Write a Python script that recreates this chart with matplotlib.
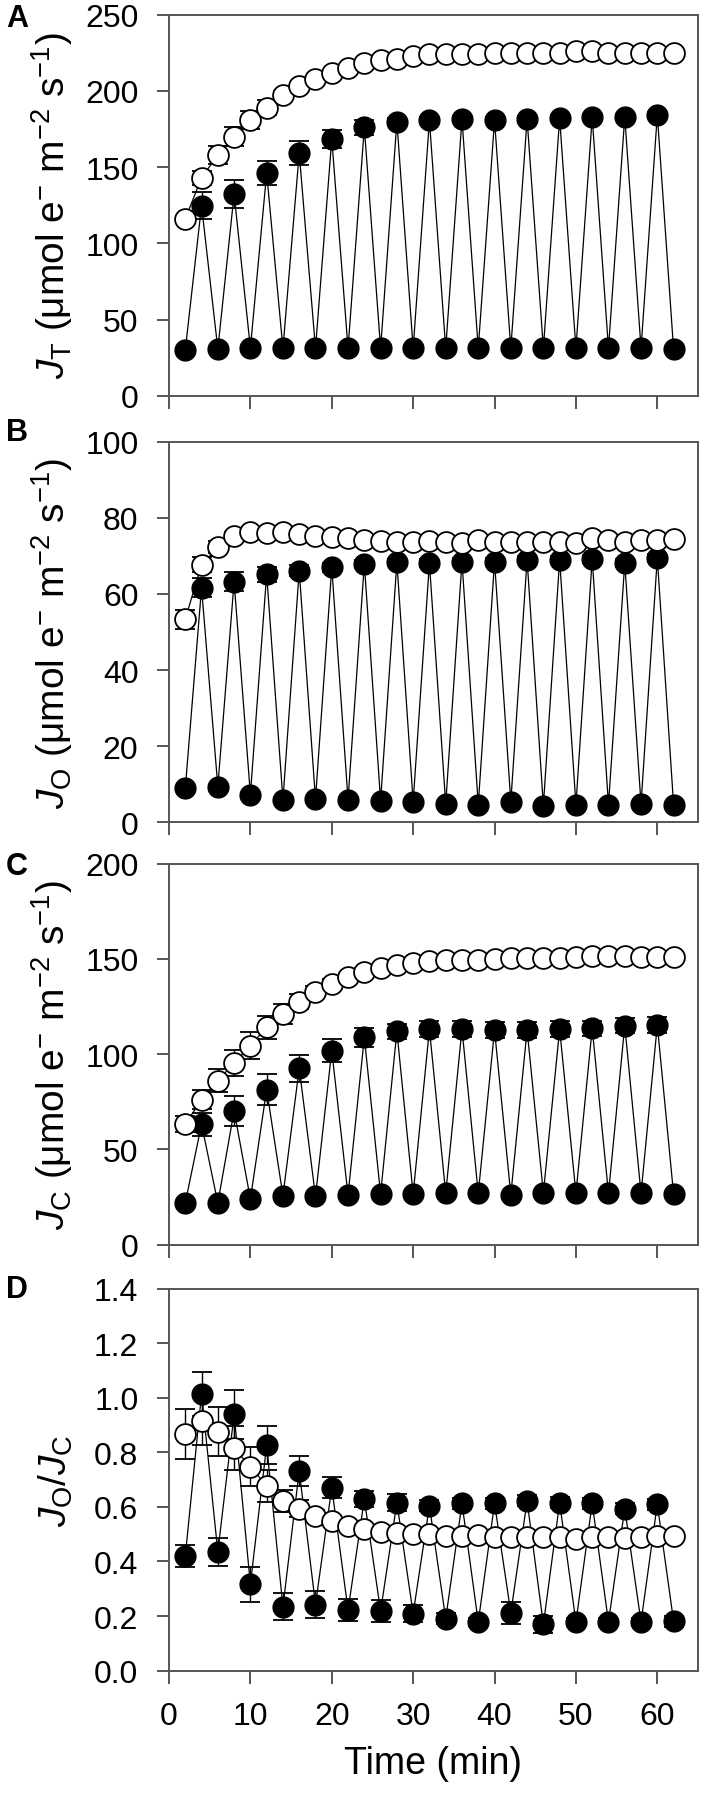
import matplotlib
matplotlib.use("Agg")
import matplotlib.pyplot as plt
from matplotlib.ticker import MultipleLocator, FormatStrFormatter

plt.rcParams['font.family'] = ['Liberation Sans', 'DejaVu Sans']
plt.rcParams['mathtext.fontset'] = 'custom'
plt.rcParams['mathtext.rm'] = 'Liberation Sans'
plt.rcParams['mathtext.it'] = 'Liberation Sans:italic'

# sampling times (min); the filled series alternates low/high on the same grid
time = [2, 4, 6, 8, 10, 12, 14, 16, 18, 20, 22, 24, 26, 28, 30, 32,
        34, 36, 38, 40, 42, 44, 46, 48, 50, 52, 54, 56, 58, 60, 62]

# -- panel A: J_T --
A_open = [116, 143, 158, 170, 181, 189, 197, 203, 208, 212, 215, 218, 220, 221, 223, 224,
          224, 224, 224, 225, 225, 225, 225, 225, 226, 226, 225, 225, 225, 225, 225]
A_open_err = [2, 4.5, 6, 6, 6, 5, 3, 2, 2, 1.5, 1.5, 1.5, 1, 1, 1, 1,
              1, 1, 1, 1, 1, 1, 1, 1, 1, 1, 1, 1, 1, 1, 1]
A_fill = [30, 124.7, 30.6, 132.3, 31.3, 146.1, 31, 159.2, 31, 168.4, 31, 176, 31, 179.8, 31, 180.7,
          31, 181.5, 31, 180.7, 31, 181.5, 31, 182, 31, 182.6, 31, 182.9, 31, 184.2, 30.5]
A_fill_err = [1, 9, 1, 9, 1, 8, 1, 8, 1, 6, 1, 5, 1, 2.5, 1, 2,
              1, 2, 1, 2, 1, 2, 1, 2, 1, 2, 1, 2, 1, 2, 1]

# -- panel B: J_O --
B_open = [53.4, 67.7, 72.3, 75.1, 76.4, 76.0, 76.2, 75.7, 75.3, 74.9, 74.6, 74.3, 74.0, 73.7, 73.7, 74.0,
          73.6, 73.3, 74.3, 73.7, 73.7, 73.6, 73.6, 73.6, 73.3, 74.6, 74.3, 73.7, 74.3, 74.3, 74.4]
B_open_err = [2.5, 2, 1.5, 1.2, 1, 1, 0.8, 0.8, 0.6, 0.6, 0.5, 0.5, 0.5, 0.5, 0.5, 0.5,
              0.5, 0.5, 0.5, 0.5, 0.5, 0.5, 0.5, 0.5, 0.5, 0.5, 0.5, 0.5, 0.5, 0.5, 0.5]
B_fill = [8.9, 61.6, 9.4, 63.2, 7.3, 65.2, 5.9, 66.1, 6.1, 67.0, 5.9, 67.9, 5.7, 68.3, 5.4, 68.1,
          4.8, 68.5, 4.6, 68.5, 5.4, 69.0, 4.4, 69.0, 4.6, 69.2, 4.6, 68.1, 4.8, 69.4, 4.6]
B_fill_err = [0.5, 2.5, 0.5, 2.5, 0.5, 2, 0.5, 1.5, 0.5, 1.2, 0.5, 1, 0.5, 1, 0.5, 1,
              0.5, 1, 0.5, 1, 0.5, 1, 0.5, 1, 0.5, 1, 0.5, 1, 0.5, 1, 0.5]

# -- panel C: J_C --
C_open = [63.3, 76.1, 86.1, 95.4, 104.5, 114.1, 121.1, 127.6, 132.8, 136.8, 140.3, 143.0, 145.0, 146.8, 147.9, 148.7,
          149.4, 149.6, 149.6, 150.0, 150.3, 150.3, 150.3, 150.7, 151.2, 151.7, 151.7, 151.4, 151.2, 150.8, 150.8]
C_open_err = [4, 5, 6, 7, 7, 6, 5, 4, 3, 2.5, 2, 2, 1.5, 1.5, 1.5, 1.5,
              1.5, 1, 1, 1, 1, 1, 1, 1, 1, 1, 1, 1, 1, 1, 1]
C_fill = [21.9, 63.3, 21.9, 70.3, 24.0, 81.4, 25.7, 92.6, 25.4, 101.8, 26.1, 108.8, 26.6, 112.0, 26.6, 113.2,
          26.9, 113.2, 26.9, 112.7, 26.1, 112.7, 27.1, 113.2, 26.9, 113.6, 26.9, 115.0, 26.9, 115.3, 26.6]
C_fill_err = [1, 6, 1, 8, 1, 8, 1, 7, 1, 6, 1, 5, 1, 4, 1, 4,
              1, 4, 1, 4, 1, 4, 1, 4, 1, 4, 1, 4, 1, 4, 1]

# -- panel D: J_O / J_C --
D_open = [0.867, 0.916, 0.875, 0.815, 0.748, 0.677, 0.622, 0.594, 0.567, 0.549, 0.530, 0.520, 0.509, 0.506, 0.500, 0.500,
          0.493, 0.493, 0.496, 0.491, 0.491, 0.491, 0.491, 0.491, 0.481, 0.491, 0.491, 0.487, 0.491, 0.493, 0.493]
D_open_err = [0.092, 0.09, 0.09, 0.08, 0.07, 0.06, 0.04, 0.03, 0.02, 0.015, 0.01, 0.01, 0.01, 0.01, 0.01, 0.01,
              0.01, 0.01, 0.01, 0.01, 0.01, 0.01, 0.01, 0.01, 0.01, 0.01, 0.01, 0.01, 0.01, 0.01, 0.01]
D_fill = [0.42, 1.014, 0.435, 0.940, 0.316, 0.826, 0.234, 0.732, 0.242, 0.671, 0.222, 0.628, 0.218, 0.616, 0.209, 0.604,
          0.190, 0.613, 0.178, 0.613, 0.212, 0.622, 0.169, 0.616, 0.178, 0.613, 0.178, 0.594, 0.178, 0.610, 0.181]
D_fill_err = [0.04, 0.08, 0.05, 0.09, 0.065, 0.07, 0.05, 0.055, 0.05, 0.04, 0.04, 0.03, 0.04, 0.03, 0.03, 0.02,
              0.02, 0.02, 0.015, 0.02, 0.04, 0.02, 0.03, 0.02, 0.015, 0.02, 0.015, 0.02, 0.015, 0.02, 0.02]

panels = [
    ("A", A_open, A_open_err, A_fill, A_fill_err, 250, 50,
     r"$\mathit{J}_{\mathrm{T}}$ (μmol e$^{\mathrm{-}}$ m$^{\mathrm{-2}}$ s$^{\mathrm{-1}}$)"),
    ("B", B_open, B_open_err, B_fill, B_fill_err, 100, 20,
     r"$\mathit{J}_{\mathrm{O}}$ (μmol e$^{\mathrm{-}}$ m$^{\mathrm{-2}}$ s$^{\mathrm{-1}}$)"),
    ("C", C_open, C_open_err, C_fill, C_fill_err, 200, 50,
     r"$\mathit{J}_{\mathrm{C}}$ (μmol e$^{\mathrm{-}}$ m$^{\mathrm{-2}}$ s$^{\mathrm{-1}}$)"),
    ("D", D_open, D_open_err, D_fill, D_fill_err, 1.4, 0.2,
     r"$\mathit{J}_{\mathrm{O}}/\mathit{J}_{\mathrm{C}}$"),
]

W, H = 708, 1799
fig = plt.figure(figsize=(W / 100, H / 100), dpi=100)

# axes frames in pixels: (top, bottom)
frames = [(15.7, 396.7), (442.7, 823.3), (864.7, 1245.7), (1289.7, 1671.6)]
letter_y = [19, 433, 867, 1290]
left_px, right_px = 169, 698
SPINE = "#555555"

for i, (letter, yo, yoe, yf, yfe, ymax, ystep, ylabel) in enumerate(panels):
    top, bot = frames[i]
    ax = fig.add_axes([left_px / W, 1 - bot / H, (right_px - left_px) / W, (bot - top) / H])

    # filled series (zigzag)
    ax.errorbar(time, yf, yerr=yfe, fmt="none", ecolor="black", elinewidth=1.0,
                capsize=7, capthick=1.3, zorder=2)
    ax.plot(time, yf, "-o", color="black", lw=0.9, ms=15, mfc="black", mec="black",
            mew=1.0, zorder=3)
    # open series
    ax.errorbar(time, yo, yerr=yoe, fmt="none", ecolor="black", elinewidth=1.0,
                capsize=7, capthick=1.3, zorder=4)
    ax.plot(time, yo, "-o", color="black", lw=0.9, ms=15, mfc="white", mec="black",
            mew=1.3, zorder=5)

    ax.set_xlim(0, 65)
    ax.set_ylim(0, ymax)
    ax.xaxis.set_major_locator(MultipleLocator(10))
    ax.yaxis.set_major_locator(MultipleLocator(ystep))
    if letter == "D":
        ax.yaxis.set_major_formatter(FormatStrFormatter("%.1f"))
        ax.set_xlabel("Time (min)", fontsize=27, labelpad=10)
    else:
        ax.set_xticklabels([])

    for s in ax.spines.values():
        s.set_color(SPINE)
        s.set_linewidth(1.4)
    ax.tick_params(direction="out", length=9, width=1.4, color=SPINE,
                   labelsize=23, pad=13, top=False, right=False)

    ax.set_ylabel(ylabel, fontsize=28)
    ax.yaxis.set_label_coords(-0.178, 0.5)

    fig.text(6 / W, 1 - letter_y[i] / H, letter, fontsize=22, fontweight="bold",
             ha="left", va="center")

fig.savefig("out.png", dpi=100)
